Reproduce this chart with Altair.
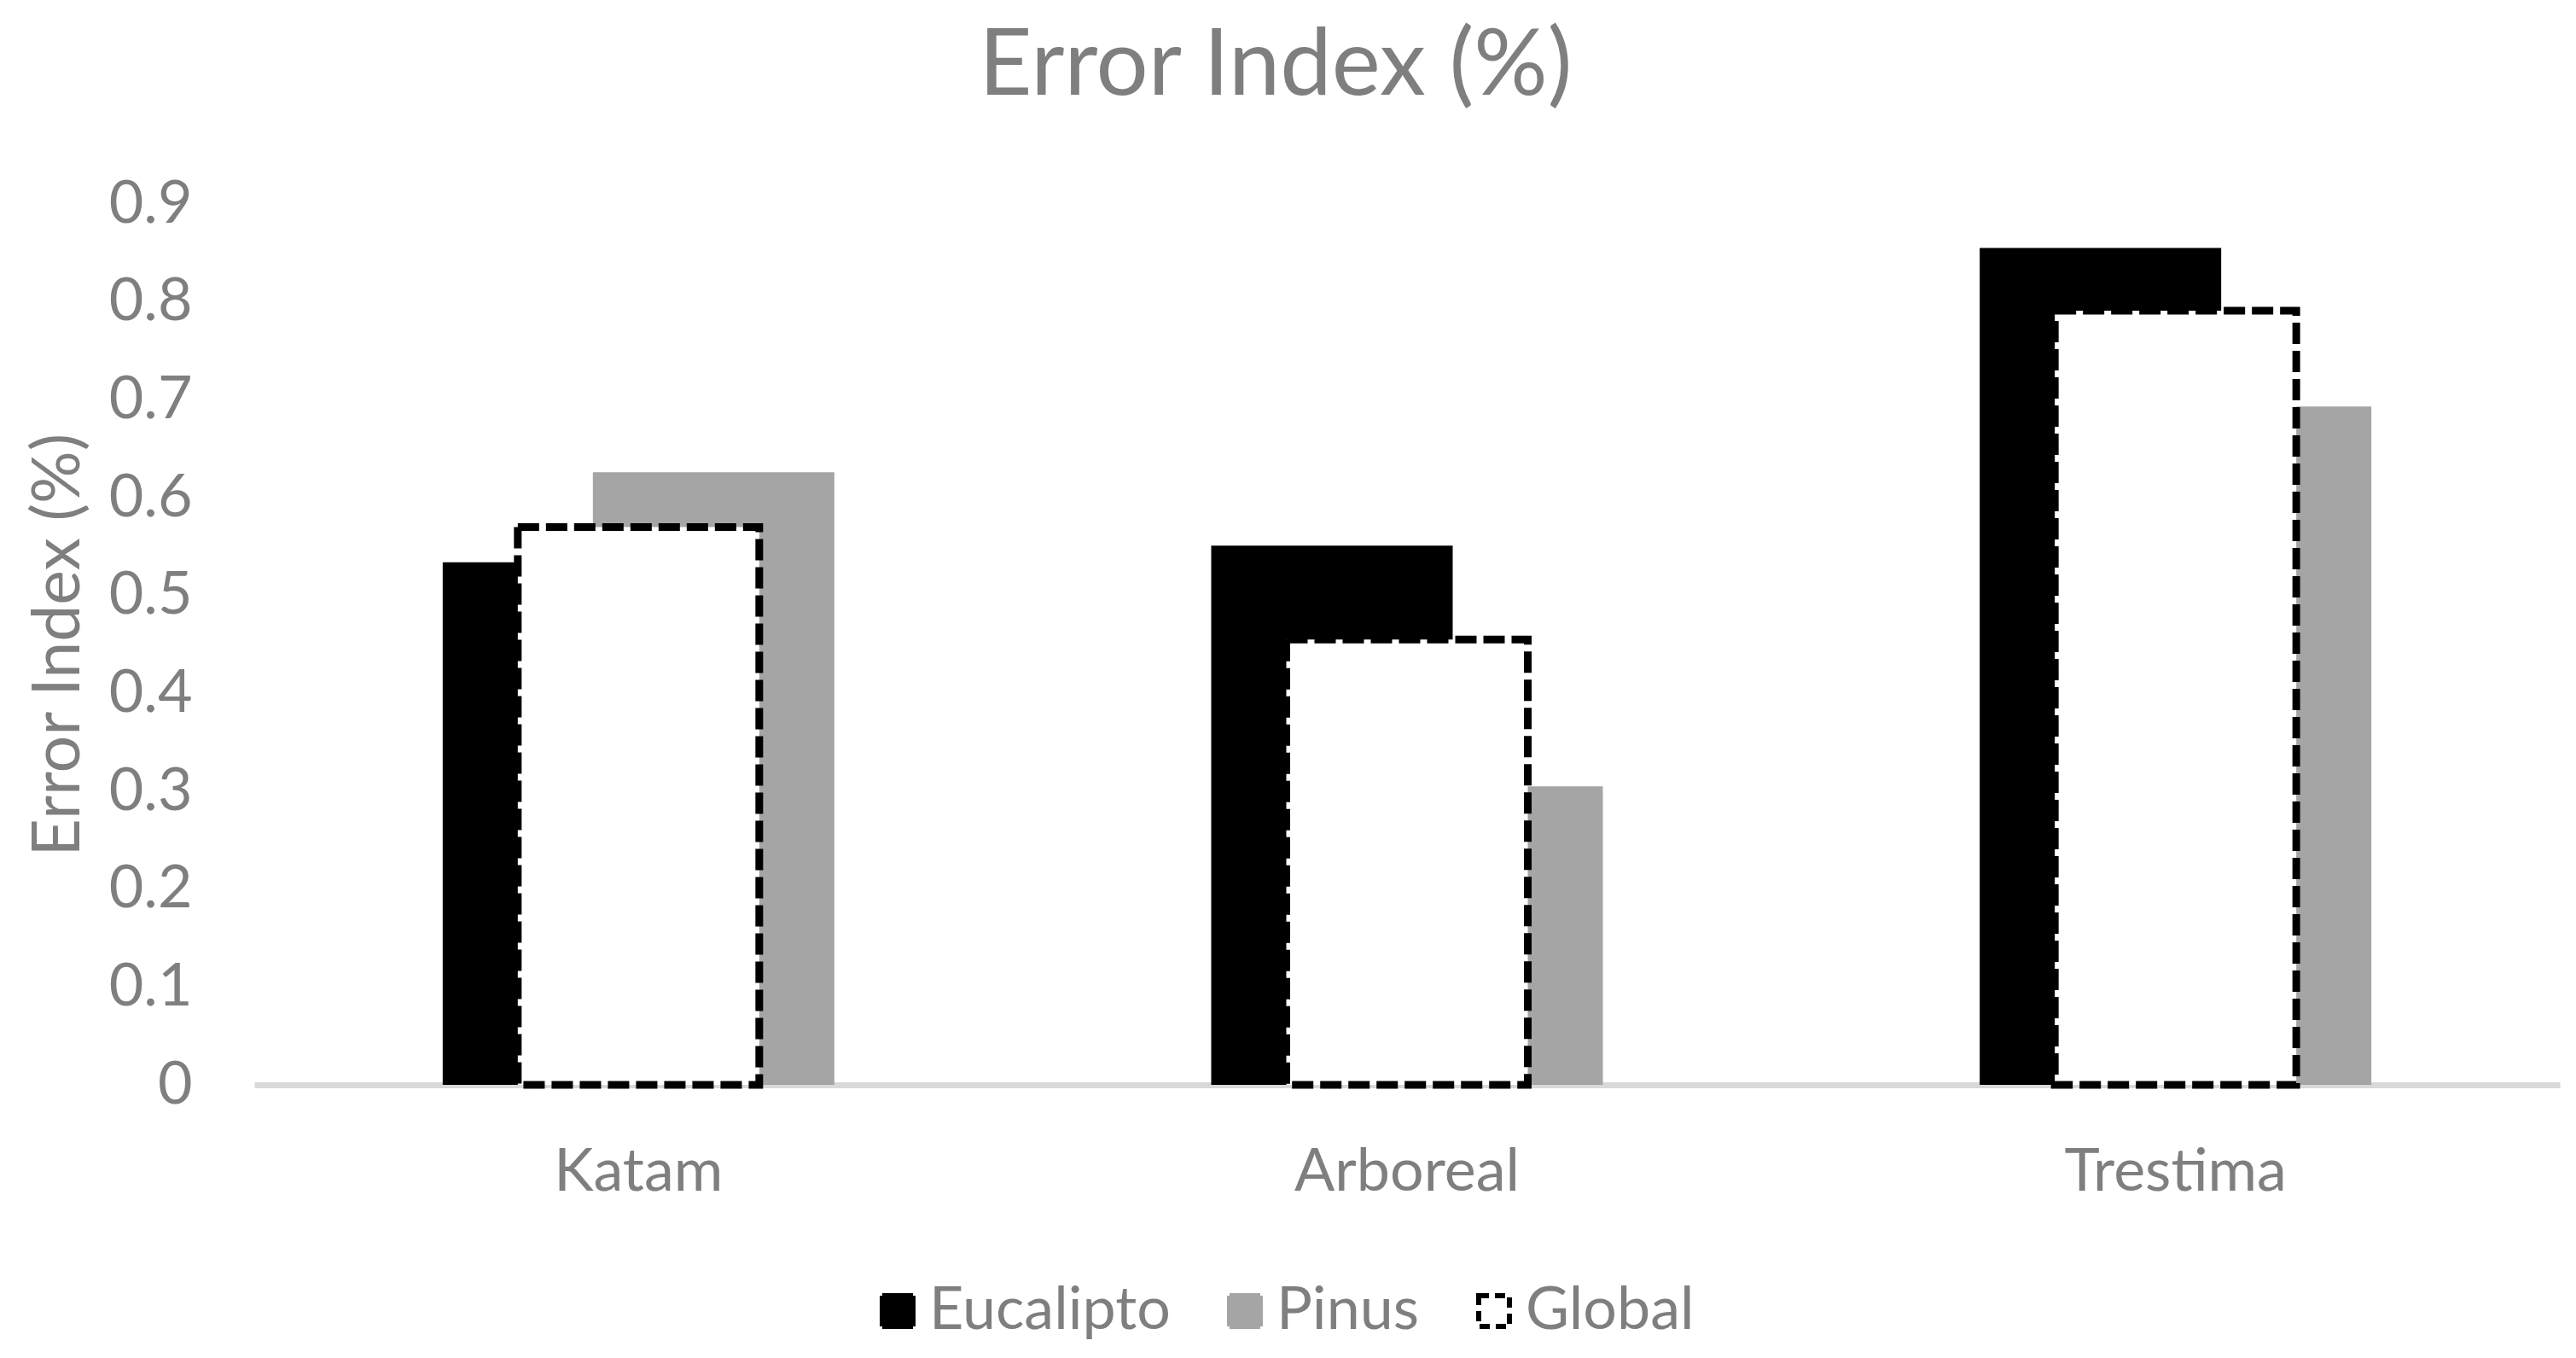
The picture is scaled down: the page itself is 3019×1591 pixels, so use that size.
import altair as alt
import pandas as pd

categories = ["Katam", "Arboreal", "Trestima"]
series = ["Eucalipto", "Pinus", "Global"]
eucalipto = [0.534, 0.551, 0.855]
pinus = [0.626, 0.305, 0.693]
global_vals = [0.570, 0.455, 0.791]
y_ticks = [0, 0.1, 0.2, 0.3, 0.4, 0.5, 0.6, 0.7, 0.8, 0.9]

fill_colors = ["#000000", "#a5a5a5", "#ffffff"]
stroke_colors = ["#000000", "#a5a5a5", "#000000"]
dash_styles = [[1, 0], [1, 0], [12, 7]]

rows = []
for name, vals in zip(series, [eucalipto, pinus, global_vals]):
    for c, v in zip(categories, vals):
        rows.append({"category": c, "series": name, "value": v})
df = pd.DataFrame(rows)

FONT = "Lato"
TXT = "#7f7f7f"

dash_enc = alt.StrokeDash(
    "series:N",
    scale=alt.Scale(domain=series, range=dash_styles),
)

base = alt.Chart(df).encode(
    x=alt.X(
        "category:N",
        sort=categories,
        scale=alt.Scale(paddingInner=0, paddingOuter=0),
        axis=alt.Axis(
            title=None, labelAngle=0, ticks=False, tickSize=0,
            domainColor="#d9d9d9", domainWidth=7,
            labelFontSize=70, labelFont=FONT, labelColor=TXT,
            labelPadding=68, labelBaseline="top", labelLimit=1000,
        ),
    ),
    y=alt.Y(
        "value:Q",
        scale=alt.Scale(domain=[0, 0.9], nice=False),
        axis=alt.Axis(
            values=y_ticks, format=".1~f", grid=False, domain=False,
            ticks=False, tickSize=0,
            labelFontSize=70, labelFont=FONT, labelColor=TXT, labelPadding=73,
            title="Error Index (%)", titleFontSize=77, titleFont=FONT,
            titleColor=TXT, titleFontWeight="normal",
            titleAngle=-90, titleX=-229, titleY=516,
            titleAlign="center", titleBaseline="middle",
        ),
    ),
    fill=alt.Fill(
        "series:N",
        scale=alt.Scale(domain=series, range=fill_colors),
        legend=alt.Legend(
            title=None, orient="none", legendX=719, legendY=1262,
            direction="horizontal", columns=3, columnPadding=52,
            symbolType="square", symbolSize=1296, symbolStrokeWidth=6,
            symbolOpacity=1,
            labelFontSize=70, labelFont=FONT, labelColor=TXT,
            labelOffset=2, labelLimit=1000, padding=0,
        ),
    ),
    stroke=alt.Stroke(
        "series:N",
        scale=alt.Scale(domain=series, range=stroke_colors),
    ),
)

euc = base.transform_filter(alt.datum.series == "Eucalipto").mark_bar(
    width=283, xOffset=-88, strokeWidth=0, opacity=1
).encode(strokeDash=dash_enc)
pin = base.transform_filter(alt.datum.series == "Pinus").mark_bar(
    width=283, xOffset=88, strokeWidth=0, opacity=1
).encode(strokeDash=dash_enc)
glo = base.transform_filter(alt.datum.series == "Global").mark_bar(
    width=283, xOffset=0, strokeWidth=9, strokeDash=[25, 8], opacity=1
)

chart = alt.layer(euc, pin, glo).properties(
    width=2702,
    height=1032,
    background="white",
    padding={"left": 290, "top": 231, "right": 10, "bottom": 310},
    autosize=alt.AutoSizeParams(type="none"),
    title=alt.TitleParams(
        "Error Index (%)", fontSize=108, font=FONT, color=TXT,
        fontWeight="normal", anchor="middle", frame="group",
        baseline="alphabetic", offset=-15, dx=-154,
    ),
).configure_view(stroke=None)

chart.save("out.html", embed_options={"renderer": "svg", "actions": False})
